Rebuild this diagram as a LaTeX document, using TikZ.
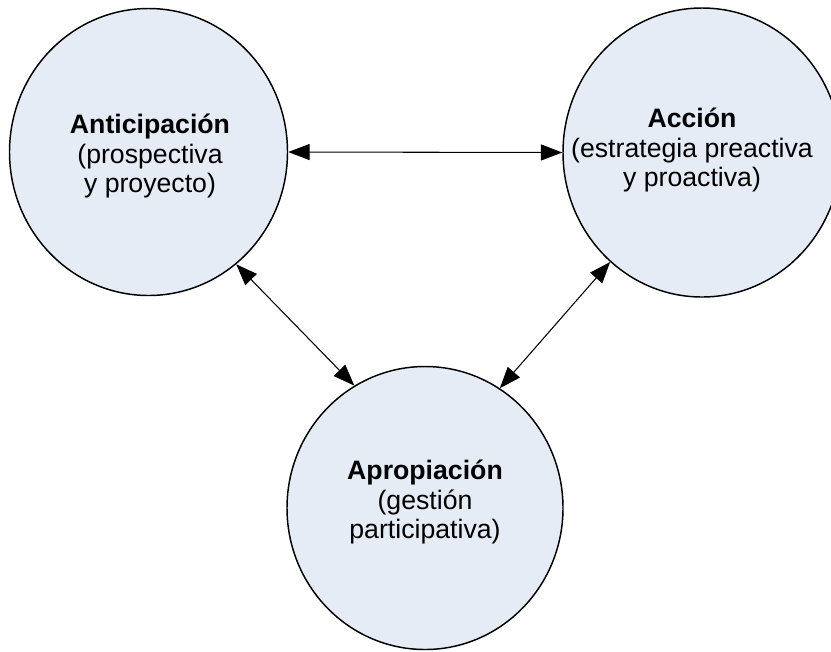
\documentclass[tikz,border=0pt]{standalone}
\usepackage{fontspec}
\setmainfont{Liberation Sans}
\usetikzlibrary{shapes.geometric,arrows.meta}
\definecolor{circfill}{RGB}{230,236,246}
\tikzset{
  circ/.style={ellipse, draw=black, line width=1.1pt, fill=circfill, inner sep=0pt},
  lbl/.style={align=center, font=\fontsize{20pt}{22pt}\selectfont, inner sep=0pt},
  link/.style={line width=0.8pt, {Triangle[length=16pt,width=12pt]}-{Triangle[length=16pt,width=12pt]}}
}
\begin{document}
\begin{tikzpicture}[x=0.75pt,y=-0.75pt]
\useasboundingbox (0,0) rectangle (831,651);
\clip (0,0) rectangle (831,651);
\node[circ, minimum width=278pt*0.75, minimum height=287pt*0.75] (a) at (148.5,152) {};
\node[circ, minimum width=278pt*0.75, minimum height=289pt*0.75] (b) at (702,152.5) {};
\node[circ, minimum width=276pt*0.75, minimum height=283pt*0.75] (c) at (425,508) {};
\node[lbl] (ta) at (150,156) {\textbf{Anticipación}\\(prospectiva\\ y proyecto)};
\node[lbl] (tb) at (692,150) {\textbf{Acción}\\(estrategia preactiva\\y proactiva)};
\node[lbl] (tc) at (425,502) {\textbf{Apropiación}\\(gestión\\participativa)};
\draw[link] (a.east) -- (b.west);
\draw[link] (a.-52.3) -- (c.120.7);
\draw[link] (b.-130) -- (c.58.4);
\end{tikzpicture}
\end{document}
